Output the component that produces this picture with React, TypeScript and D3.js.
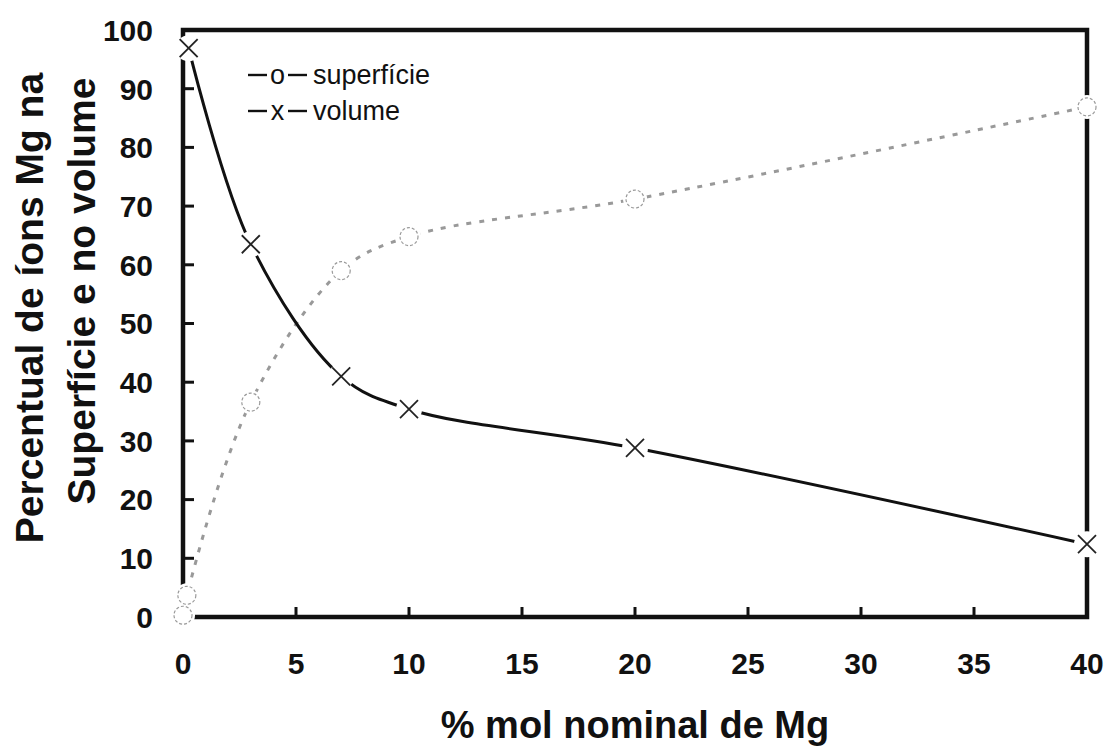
import React from "react";
import * as d3 from "d3";

const volX = [0.25, 3, 7, 10, 20, 40];
const volY = [96.9, 63.5, 41, 35.4, 28.8, 12.4];
const supX = [0, 0.17, 3, 7, 10, 20, 40];
const supY = [0.3, 3.7, 36.6, 59, 64.8, 71.2, 86.9];
const xTicks = [0, 5, 10, 15, 20, 25, 30, 35, 40];
const yTicks = [0, 10, 20, 30, 40, 50, 60, 70, 80, 90, 100];
const legendSymbols = ["o", "x"];
const legendLabels = ["superfície", "volume"];

export default function App() {
  const W = 1106, H = 746;
  const x = d3.scaleLinear().domain([0, 40]).range([183, 1087]);
  const y = d3.scaleLinear().domain([0, 100]).range([617, 30]);
  const vol = volX.map((v, i) => [v, volY[i]] as [number, number]);
  const sup = supX.map((v, i) => [v, supY[i]] as [number, number]);
  const line = d3
    .line<[number, number]>()
    .x((d) => x(d[0]))
    .y((d) => y(d[1]))
    .curve(d3.curveCatmullRom.alpha(0.5));
  const font = "'Liberation Sans', Arial, Helvetica, sans-serif";
  const [x0, x1] = x.range();
  const [y0, y1] = y.range();
  const m = 9;
  return (
    <svg
      width={W}
      height={H}
      style={{ position: "absolute", left: 0, top: 0, background: "#fff" }}
      fontFamily={font}
    >
      <rect x={0} y={0} width={W} height={H} fill="#fff" />
      {/* frame */}
      <rect x={x0} y={y1} width={x1 - x0} height={y0 - y1} fill="none" stroke="#111" strokeWidth={4.5} />
      {xTicks.slice(1, -1).map((t) => (
        <line key={"xt" + t} x1={x(t)} x2={x(t)} y1={y0} y2={y0 - 10} stroke="#111" strokeWidth={3} />
      ))}
      {yTicks.slice(1, -1).map((t) => (
        <line key={"yt" + t} x1={x0} x2={x0 + 11} y1={y(t)} y2={y(t)} stroke="#111" strokeWidth={3} />
      ))}
      {/* lines */}
      <path d={line(sup) || ""} fill="none" stroke="#999" strokeWidth={3} strokeDasharray="5,8" />
      <path d={line(vol) || ""} fill="none" stroke="#111" strokeWidth={3} />
      {/* marker backgrounds */}
      {sup.map((d, i) => (
        <circle key={"sb" + i} cx={x(d[0])} cy={y(d[1])} r={12} fill="#fff" />
      ))}
      {vol.map((d, i) => (
        <circle key={"vb" + i} cx={x(d[0])} cy={y(d[1])} r={13} fill="#fff" />
      ))}
      {/* markers */}
      {sup.map((d, i) => (
        <circle
          key={"sm" + i}
          cx={x(d[0])}
          cy={y(d[1])}
          r={9}
          fill="#fff"
          stroke="#999"
          strokeWidth={1.2}
          strokeDasharray="3,2"
        />
      ))}
      {vol.map((d, i) => {
        const cx = x(d[0]), cy = y(d[1]);
        return (
          <g key={"vm" + i} stroke="#222" strokeWidth={1.8}>
            <line x1={cx - m} y1={cy - m} x2={cx + m} y2={cy + m} />
            <line x1={cx - m} y1={cy + m} x2={cx + m} y2={cy - m} />
          </g>
        );
      })}
      {/* tick labels */}
      {xTicks.map((t) => (
        <text key={"xl" + t} x={x(t)} y={674} textAnchor="middle" fontSize={30} fontWeight="bold" fill="#111">
          {t}
        </text>
      ))}
      {yTicks.map((t) => (
        <text key={"yl" + t} x={153} y={y(t)} dy="0.36em" textAnchor="end" fontSize={30} fontWeight="bold" fill="#111">
          {t}
        </text>
      ))}
      {/* axis titles */}
      <text x={635} y={738} textAnchor="middle" fontSize={38} fontWeight="bold" fill="#111">
        % mol nominal de Mg
      </text>
      <text
        transform="translate(43,308) rotate(-90)"
        textAnchor="middle"
        fontSize={39}
        fontWeight="bold"
        fill="#111"
      >
        Percentual de íons Mg na
      </text>
      <text
        transform="translate(95,291) rotate(-90)"
        textAnchor="middle"
        fontSize={39}
        fontWeight="bold"
        fill="#111"
      >
        Superfície e no volume
      </text>
      {/* legend */}
      {legendLabels.map((l, i) => {
        const by = 84 + i * 36;
        return (
          <g key={"lg" + i}>
            <line x1={248} x2={267} y1={by - 9} y2={by - 9} stroke="#111" strokeWidth={2.4} />
            <text x={277.5} y={by} textAnchor="middle" fontSize={27} fill="#111">
              {legendSymbols[i]}
            </text>
            <line x1={288} x2={307} y1={by - 9} y2={by - 9} stroke="#111" strokeWidth={2.4} />
            <text x={313} y={by} fontSize={27} fill="#111">
              {l}
            </text>
          </g>
        );
      })}
    </svg>
  );
}
